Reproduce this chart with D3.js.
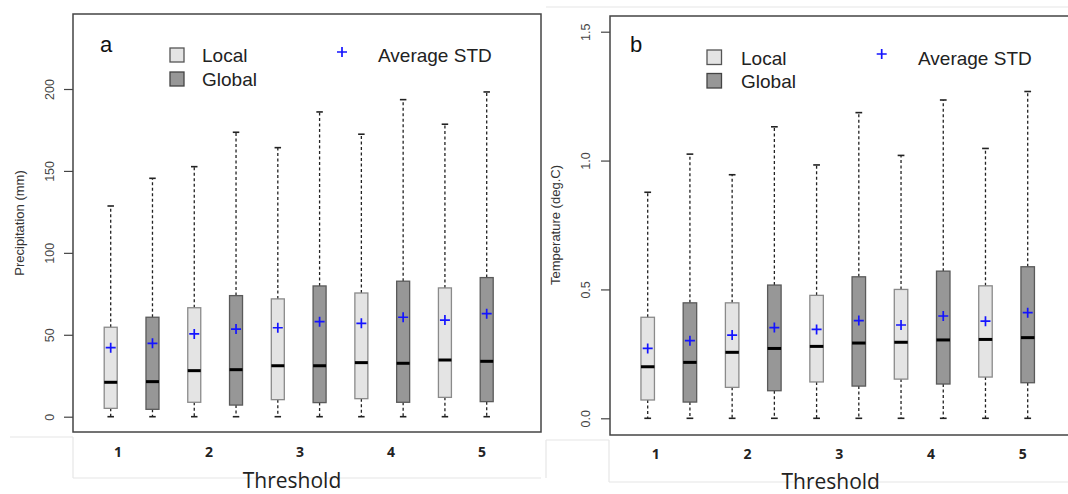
<!DOCTYPE html>
<html>
<head>
<meta charset="utf-8">
<script src="https://cdn.jsdelivr.net/npm/d3@7"></script>
<style>
  body { margin: 0; background: #fff; }
  svg { display: block; }
</style>
</head>
<body>
<div id="chart"></div>
<script>
// threshold categories, boxes go Local/Global for each threshold
const thresholds = ["1", "2", "3", "4", "5"];
const groups = ["Local", "Global"];

// precipitation (mm), 10 boxes: T1 Local, T1 Global, T2 Local, ...
const precipHi     = [128.6, 145.5, 152.6, 173.6, 164.2, 186.0, 172.4, 193.5, 178.5, 198.2];
const precipQ3     = [54.6, 60.7, 66.5, 73.9, 71.9, 79.8, 75.5, 82.7, 78.6, 84.9];
const precipMedian = [21.0, 21.4, 28.1, 28.7, 31.1, 31.1, 33.0, 32.6, 34.6, 33.8];
const precipQ1     = [5.1, 4.5, 8.8, 7.1, 10.4, 8.6, 11.0, 8.8, 11.8, 9.2];
const precipLo     = [0, 0, 0, 0, 0, 0, 0, 0, 0, 0];
const precipMean   = [42.1, 44.8, 50.5, 53.5, 54.3, 58.0, 57.0, 60.7, 59.0, 62.9];
const precipTicks  = [0, 50, 100, 150, 200];

// temperature (deg.C)
const tempHi     = [0.877, 1.025, 0.945, 1.131, 0.983, 1.186, 1.020, 1.235, 1.047, 1.268];
const tempQ3     = [0.392, 0.448, 0.448, 0.517, 0.477, 0.549, 0.500, 0.571, 0.514, 0.588];
const tempMedian = [0.200, 0.217, 0.256, 0.271, 0.279, 0.292, 0.295, 0.304, 0.306, 0.313];
const tempQ1     = [0.071, 0.063, 0.120, 0.107, 0.141, 0.125, 0.152, 0.133, 0.160, 0.138];
const tempLo     = [0, 0, 0, 0, 0, 0, 0, 0, 0, 0];
const tempMean   = [0.271, 0.301, 0.323, 0.352, 0.345, 0.379, 0.362, 0.397, 0.377, 0.410];
const tempTicks  = [0.0, 0.5, 1.0, 1.5];

const fills = { Local: "#e4e4e4", Global: "#979797" };
const strokes = { Local: "#8a8a8a", Global: "#5a5a5a" };

const svg = d3.select("#chart").append("svg")
    .attr("width", 1068)
    .attr("height", 494);

// faint frame lines left over from the source document
const faint = [
  [10, 437, 73, 437], [73, 437, 73, 478], [73, 478, 541, 478],
  [546, 7, 1068, 7],
  [546, 440, 609, 440], [546, 440, 546, 478], [609, 440, 609, 482], [609, 482, 1068, 482]
];
svg.append("g").selectAll("line")
    .data(faint)
    .enter().append("line")
    .attr("x1", d => d[0]).attr("y1", d => d[1])
    .attr("x2", d => d[2]).attr("y2", d => d[3])
    .attr("stroke", "#e6e6e6")
    .attr("stroke-width", 1.2);

function drawPanel(p) {
  let g = svg.append("g");

  let y = d3.scaleLinear().domain(p.yDomain).range(p.yRange);
  let x = d3.scaleLinear().domain([1, 10]).range(p.xRange);
  let xt = d3.scalePoint().domain(thresholds).range(p.labelRange);

  let rows = p.hi.map((v, i) => ({
    i: i + 1,
    group: groups[i % 2],
    hi: v, q3: p.q3[i], med: p.med[i], q1: p.q1[i], lo: p.lo[i], mean: p.mean[i]
  }));

  // y axis, R style: rotated labels, no domain line (frame covers it)
  let yAxis = d3.axisLeft(y)
      .tickValues(p.ticks)
      .tickSize(9)
      .tickSizeOuter(0)
      .tickFormat(p.fmt);

  let lx = p.tickLabelX - p.frame[0];
  let axis_g = g.append("g")
      .attr("transform", "translate(" + p.frame[0] + ",0)")
      .call(yAxis);
  axis_g.select(".domain").remove();
  axis_g.selectAll(".tick line").attr("stroke", "#444").attr("stroke-width", 1.2);
  axis_g.selectAll(".tick text")
      .attr("transform", "rotate(-90," + lx + ",0)")
      .attr("x", lx)
      .attr("y", 0)
      .attr("dy", "0.35em")
      .attr("text-anchor", "middle")
      .style("font-family", "Liberation Sans, Arial, sans-serif")
      .style("font-size", "12.5px")
      .style("fill", "#444");

  g.append("text")
      .attr("transform", "translate(" + p.titleX + "," + p.titleY + ") rotate(-90)")
      .attr("text-anchor", "middle")
      .attr("dy", "0.35em")
      .style("font-family", "Liberation Sans, Arial, sans-serif")
      .style("font-size", "13px")
      .style("fill", "#333")
      .text(p.title);

  // whiskers
  let bw = p.boxWidth;
  let box_g = g.selectAll(".box").data(rows).enter()
      .append("g").attr("class", "box");

  box_g.append("line")
      .attr("x1", d => x(d.i)).attr("x2", d => x(d.i))
      .attr("y1", d => y(d.q3)).attr("y2", d => y(d.hi))
      .attr("stroke", "#222").attr("stroke-width", 1.3)
      .attr("stroke-dasharray", "3,2.5");
  box_g.append("line")
      .attr("x1", d => x(d.i)).attr("x2", d => x(d.i))
      .attr("y1", d => y(d.q1)).attr("y2", d => y(d.lo))
      .attr("stroke", "#222").attr("stroke-width", 1.3)
      .attr("stroke-dasharray", "3,2.5");
  box_g.append("line")
      .attr("x1", d => x(d.i) - bw / 4).attr("x2", d => x(d.i) + bw / 4)
      .attr("y1", d => y(d.hi)).attr("y2", d => y(d.hi))
      .attr("stroke", "#222").attr("stroke-width", 1.6);
  box_g.append("line")
      .attr("x1", d => x(d.i) - bw / 4).attr("x2", d => x(d.i) + bw / 4)
      .attr("y1", d => y(d.lo)).attr("y2", d => y(d.lo))
      .attr("stroke", "#222").attr("stroke-width", 1.6);

  box_g.append("rect")
      .attr("x", d => x(d.i) - bw / 2)
      .attr("width", bw)
      .attr("y", d => y(d.q3))
      .attr("height", d => y(d.q1) - y(d.q3))
      .attr("fill", d => fills[d.group])
      .attr("stroke", d => strokes[d.group])
      .attr("stroke-width", 1.3);

  box_g.append("line")
      .attr("x1", d => x(d.i) - bw / 2).attr("x2", d => x(d.i) + bw / 2)
      .attr("y1", d => y(d.med)).attr("y2", d => y(d.med))
      .attr("stroke", "#000").attr("stroke-width", 3);

  // means
  let ps = 5;
  box_g.append("path")
      .attr("d", d => "M" + (x(d.i) - ps) + "," + y(d.mean) + "h" + (2 * ps) +
                      "M" + x(d.i) + "," + (y(d.mean) - ps) + "v" + (2 * ps))
      .attr("stroke", "#1414ff").attr("stroke-width", 1.7);

  // frame
  g.append("rect")
      .attr("x", p.frame[0]).attr("y", p.frame[1])
      .attr("width", p.frame[2] - p.frame[0])
      .attr("height", p.frame[3] - p.frame[1])
      .attr("fill", "none")
      .attr("stroke", "#444")
      .attr("stroke-width", 1.5);

  // threshold labels
  g.selectAll(".thr").data(thresholds).enter()
      .append("text").attr("class", "thr")
      .attr("x", d => xt(d))
      .attr("y", p.labelY)
      .attr("text-anchor", "middle")
      .style("font-family", "Open Sans, sans-serif")
      .style("font-weight", "bold")
      .style("font-size", "14px")
      .style("fill", "#222")
      .text(d => d);

  g.append("text")
      .attr("x", p.xTitleX).attr("y", p.xTitleY)
      .attr("text-anchor", "middle")
      .style("font-family", "Open Sans, sans-serif")
      .style("font-size", "21px")
      .style("fill", "#222")
      .text("Threshold");

  // panel letter
  g.append("text")
      .attr("x", p.letter[0]).attr("y", p.letter[1])
      .style("font-family", "Liberation Sans, Arial, sans-serif")
      .style("font-size", "22px")
      .style("fill", "#111")
      .text(p.letterText);

  // legend
  let L = p.legend;
  let leg = g.selectAll(".leg").data(groups).enter()
      .append("g").attr("class", "leg")
      .attr("transform", (d, i) => "translate(" + L.x + "," + (L.y + i * L.dy) + ")");
  leg.append("rect")
      .attr("width", L.size).attr("height", L.size)
      .attr("fill", d => fills[d])
      .attr("stroke", d => d === "Local" ? "#555" : "#444")
      .attr("stroke-width", 1.3);
  leg.append("text")
      .attr("x", L.textX - L.x)
      .attr("y", L.size)
      .style("font-family", "Liberation Sans, Arial, sans-serif")
      .style("font-size", "19px")
      .style("fill", "#222")
      .text(d => d);

  g.append("path")
      .attr("d", "M" + (L.plusX - 5) + "," + L.plusY + "h10M" + L.plusX + "," + (L.plusY - 5) + "v10")
      .attr("stroke", "#1414ff").attr("stroke-width", 1.7);
  g.append("text")
      .attr("x", L.avgX).attr("y", L.y + L.size)
      .style("font-family", "Liberation Sans, Arial, sans-serif")
      .style("font-size", "19px")
      .style("fill", "#222")
      .text("Average STD");
}

drawPanel({
  frame: [73, 14, 541, 432],
  yDomain: [0, 200], yRange: [416.7, 89],
  xRange: [110.7, 486.7],
  labelRange: [118, 482], labelY: 457,
  ticks: precipTicks, fmt: d3.format("d"), tickLabelX: 50,
  title: "Precipitation (mm)", titleX: 19, titleY: 223,
  xTitleX: 292, xTitleY: 488,
  letter: [100, 52], letterText: "a",
  boxWidth: 13,
  legend: { x: 170, y: 48, dy: 24, size: 14, textX: 202, plusX: 342, plusY: 52, avgX: 378 },
  hi: precipHi, q3: precipQ3, med: precipMedian, q1: precipQ1, lo: precipLo, mean: precipMean
});

drawPanel({
  frame: [610, 16, 1072, 435],
  yDomain: [0, 1.5], yRange: [418.3, 31.7],
  xRange: [647.7, 1027.7],
  labelRange: [655.7, 1022.7], labelY: 459,
  ticks: tempTicks, fmt: d3.format(".1f"), tickLabelX: 586,
  title: "Temperature (deg.C)", titleX: 555, titleY: 225,
  xTitleX: 830.7, xTitleY: 489,
  letter: [630, 52], letterText: "b",
  boxWidth: 13.5,
  legend: { x: 707, y: 50, dy: 23.5, size: 14.5, textX: 741, plusX: 881.7, plusY: 54, avgX: 918 },
  hi: tempHi, q3: tempQ3, med: tempMedian, q1: tempQ1, lo: tempLo, mean: tempMean
});
</script>
</body>
</html>
